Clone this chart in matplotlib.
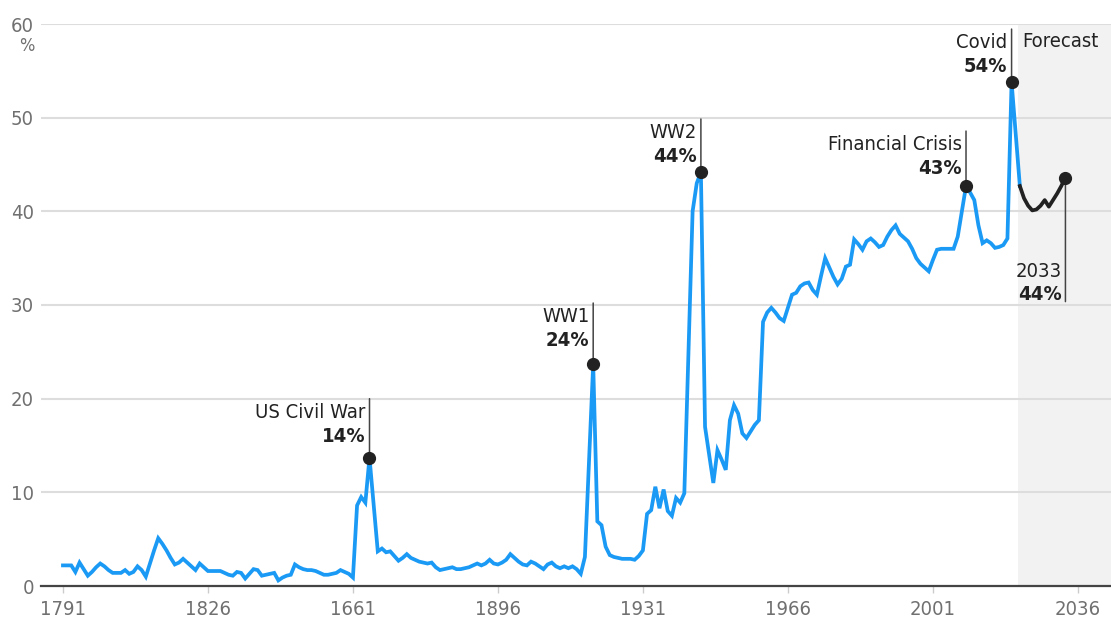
import matplotlib
matplotlib.use("Agg")
import matplotlib.pyplot as plt
from matplotlib import font_manager

# narrow face for all text if one is installed
names = {f.name for f in font_manager.fontManager.ttflist}
if "Liberation Sans Narrow" in names:
    plt.rcParams["font.family"] = "Liberation Sans Narrow"
    fs = 16
else:
    plt.rcParams["font.family"] = "DejaVu Sans"
    plt.rcParams["font.stretch"] = "condensed"
    fs = 14.5

years = list(range(1791, 2023))
spending = [
    2.2, 2.2, 2.2, 1.5, 2.5, 1.8, 1.1, 1.5, 2.0, 2.4,
    2.1, 1.7, 1.4, 1.4, 1.4, 1.7, 1.3, 1.5, 2.1, 1.7,
    1.0, 2.4, 3.8, 5.1, 4.5, 3.8, 3.0, 2.3, 2.5, 2.9,
    2.5, 2.1, 1.7, 2.4, 2.0, 1.6, 1.6, 1.6, 1.6, 1.4,
    1.2, 1.1, 1.5, 1.4, 0.8, 1.3, 1.8, 1.7, 1.1, 1.2,
    1.3, 1.4, 0.6, 0.9, 1.1, 1.2, 2.3, 2.0, 1.8, 1.7,
    1.7, 1.6, 1.4, 1.2, 1.2, 1.3, 1.4, 1.7, 1.5, 1.3,
    0.9, 8.6, 9.5, 8.9, 13.7, 8.7, 3.7, 4.0, 3.6, 3.7,
    3.2, 2.7, 3.0, 3.4, 3.0, 2.8, 2.6, 2.5, 2.4, 2.5,
    2.0, 1.7, 1.8, 1.9, 2.0, 1.8, 1.8, 1.9, 2.0, 2.2,
    2.4, 2.2, 2.4, 2.8, 2.4, 2.3, 2.5, 2.8, 3.4, 3.0,
    2.6, 2.3, 2.2, 2.6, 2.4, 2.1, 1.8, 2.3, 2.5, 2.1,
    1.9, 2.1, 1.9, 2.1, 1.8, 1.3, 3.1, 13.5, 23.7, 6.9,
    6.5, 4.2, 3.3, 3.1, 3.0, 2.9, 2.9, 2.9, 2.8, 3.2,
    3.8, 7.7, 8.1, 10.6, 8.3, 10.3, 8.0, 7.5, 9.4, 8.9,
    9.9, 25.0, 40.0, 43.0, 44.2, 17.0, 14.0, 11.0, 14.5, 13.5,
    12.4, 17.7, 19.3, 18.4, 16.3, 15.8, 16.5, 17.2, 17.7, 28.2,
    29.2, 29.7, 29.2, 28.6, 28.3, 29.7, 31.1, 31.3, 32.0, 32.3,
    32.4, 31.6, 31.1, 33.1, 35.0, 34.0, 33.0, 32.2, 32.8, 34.1,
    34.3, 37.0, 36.5, 35.9, 36.8, 37.1, 36.7, 36.2, 36.4, 37.3,
    38.0, 38.5, 37.6, 37.2, 36.8, 36.0, 35.0, 34.4, 34.0, 33.6,
    34.8, 35.9, 36.0, 36.0, 36.0, 36.0, 37.3, 40.0, 42.7, 42.0,
    41.2, 38.5, 36.6, 36.9, 36.6, 36.1, 36.2, 36.4, 37.1, 53.8,
    48.2, 42.7,
]

forecast_years = list(range(2022, 2034))
forecast = [42.7, 41.4, 40.6, 40.1, 40.2, 40.6, 41.2, 40.5, 41.2, 41.9, 42.7, 43.6]

event_names = ["US Civil War", "WW1", "WW2", "Financial Crisis", "Covid"]
event_years = [1865, 1919, 1945, 2009, 2020]
# how far (px) the value line sits above each dot
event_gap = [16, 18, 10, 12, 10]

tick_years = [1791, 1826, 1861, 1896, 1931, 1966, 2001, 2036]
tick_labels = ["1791", "1826", "1661", "1896", "1931", "1966", "2001", "2036"]

blue = "#1b9af5"
ink = "#222222"
grey = "#707070"
px = 0.72  # points per pixel at 100 dpi

fig = plt.figure(figsize=(11.11, 6.2), dpi=100)
ax = fig.add_axes([41 / 1111, 34 / 620, 1 - 41 / 1111, 562 / 620])

ax.axvspan(forecast_years[0] - 0.4, 2050, color="#f2f2f2", zorder=0, lw=0)
for g in range(10, 70, 10):
    ax.axhline(g, color="#dddddd", lw=1.5, zorder=1)

ax.plot(years, spending, color=blue, lw=2.7, zorder=3, solid_joinstyle="miter")
ax.plot(forecast_years, forecast, color=ink, lw=2.7, zorder=3)

for name, yr, gap in zip(event_names, event_years, event_gap):
    v = spending[years.index(yr)]
    ax.plot(yr, v, "o", color=ink, ms=8.5, zorder=5)
    ax.annotate("", xy=(yr, v), xytext=(0, (gap + 43) * px), textcoords="offset points",
                arrowprops=dict(arrowstyle="-", color="#444444", lw=1.1, shrinkA=0, shrinkB=0),
                zorder=4)
    ax.annotate(f"{round(v)}%", xy=(yr, v), xytext=(-4 * px, gap * px), textcoords="offset points",
                ha="right", va="baseline", fontsize=fs, fontweight="bold", color=ink)
    ax.annotate(name, xy=(yr, v), xytext=(-4 * px, (gap + 24) * px), textcoords="offset points",
                ha="right", va="baseline", fontsize=fs, color=ink)

# end of the forecast, labelled underneath
end_yr, end_v = forecast_years[-1], forecast[-1]
ax.plot(end_yr, end_v, "o", color=ink, ms=8.5, zorder=5)
ax.annotate("", xy=(end_yr, end_v), xytext=(0, -124 * px), textcoords="offset points",
            arrowprops=dict(arrowstyle="-", color="#444444", lw=1.1, shrinkA=0, shrinkB=0),
            zorder=4)
ax.annotate(str(end_yr), xy=(end_yr, end_v), xytext=(-4 * px, -99 * px), textcoords="offset points",
            ha="right", va="baseline", fontsize=fs, color=ink)
ax.annotate(f"{round(end_v)}%", xy=(end_yr, end_v), xytext=(-4 * px, -122 * px),
            textcoords="offset points", ha="right", va="baseline", fontsize=fs,
            fontweight="bold", color=ink)

ax.annotate("Forecast", xy=(forecast_years[0] - 0.4, 60), xytext=(4 * px, -23 * px),
            textcoords="offset points", ha="left", va="baseline", fontsize=fs, color=ink)

ax.set_xlim(1785.7, 2044)
ax.set_ylim(0, 60)
ax.set_xticks(tick_years)
ax.set_xticklabels(tick_labels)
ax.set_yticks(range(0, 70, 10))
ax.tick_params(axis="x", length=5, width=1, color="#cccccc", pad=5, labelsize=fs, labelcolor=grey)
ax.tick_params(axis="y", length=0, pad=5, labelsize=fs, labelcolor=grey)
ax.annotate("%", xy=(0, 60), xycoords=("axes fraction", "data"), xytext=(-5, -16),
            textcoords="offset points", ha="right", va="center", fontsize=fs - 1.5, color=grey)

for s in ["top", "right", "left"]:
    ax.spines[s].set_visible(False)
ax.spines["bottom"].set_color("#444444")
ax.spines["bottom"].set_linewidth(1.6)
ax.spines["bottom"].set_zorder(6)

fig.savefig("out.png", dpi=100)
